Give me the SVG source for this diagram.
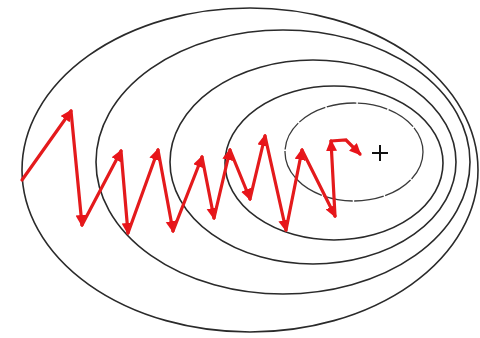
<svg xmlns="http://www.w3.org/2000/svg" width="480" height="338" viewBox="0 0 480 338">
  <style>
    .contour { fill: none; stroke: #2a2a2a; stroke-width: 1.6; }
    .inner { stroke: #3a3a3a; stroke-width: 1.3; stroke-dasharray: 30 1.5; }
    .step { fill: none; stroke: #e41a1c; stroke-width: 3.2; stroke-linecap: round; marker-end: url(#head); }
    .plus { stroke: #111; stroke-width: 2; }
  </style>
  <defs>
    <marker id="head" markerUnits="userSpaceOnUse" markerWidth="16" markerHeight="14" refX="10" refY="5.5" orient="auto">
      <path d="M0,0 L12,5.5 L0,11 z" fill="#e8141a"/>
    </marker>
  </defs>
  <rect width="480" height="338" fill="#ffffff"/>
  <g id="contours">
    <ellipse id="c5" class="contour" cx="250" cy="170" rx="228" ry="162"/>
    <ellipse id="c4" class="contour" cx="283" cy="162" rx="187" ry="132"/>
    <ellipse id="c3" class="contour" cx="313" cy="162" rx="143" ry="102"/>
    <ellipse id="c2" class="contour" cx="334" cy="163" rx="109" ry="77"/>
    <ellipse id="c1" class="contour inner" cx="354" cy="152" rx="69" ry="49"/>
  </g>
  <g id="minimum">
    <line class="plus" x1="372" y1="153" x2="388" y2="153"/>
    <line class="plus" x1="380" y1="145" x2="380" y2="161"/>
  </g>
  <g id="connectors">
    <line x1="22" y1="180" x2="71" y2="111" class="step"/>
    <line x1="71" y1="111" x2="82" y2="225" class="step"/>
    <line x1="82" y1="225" x2="121" y2="151" class="step"/>
    <line x1="121" y1="151" x2="128" y2="233" class="step"/>
    <line x1="128" y1="233" x2="158" y2="150" class="step"/>
    <line x1="158" y1="150" x2="173" y2="231" class="step"/>
    <line x1="173" y1="231" x2="202" y2="157" class="step"/>
    <line x1="202" y1="157" x2="214" y2="218" class="step"/>
    <line x1="214" y1="218" x2="230" y2="150" class="step"/>
    <line x1="230" y1="150" x2="250" y2="199" class="step"/>
    <line x1="250" y1="199" x2="265" y2="136" class="step"/>
    <line x1="265" y1="136" x2="286" y2="230" class="step"/>
    <line x1="286" y1="230" x2="302" y2="150" class="step"/>
    <line x1="302" y1="150" x2="335" y2="216" class="step"/>
    <line x1="335" y1="216" x2="331" y2="141" class="step"/>
    <path d="M331,141 L346,140 L360,154" class="step"/>
  </g>
</svg>
